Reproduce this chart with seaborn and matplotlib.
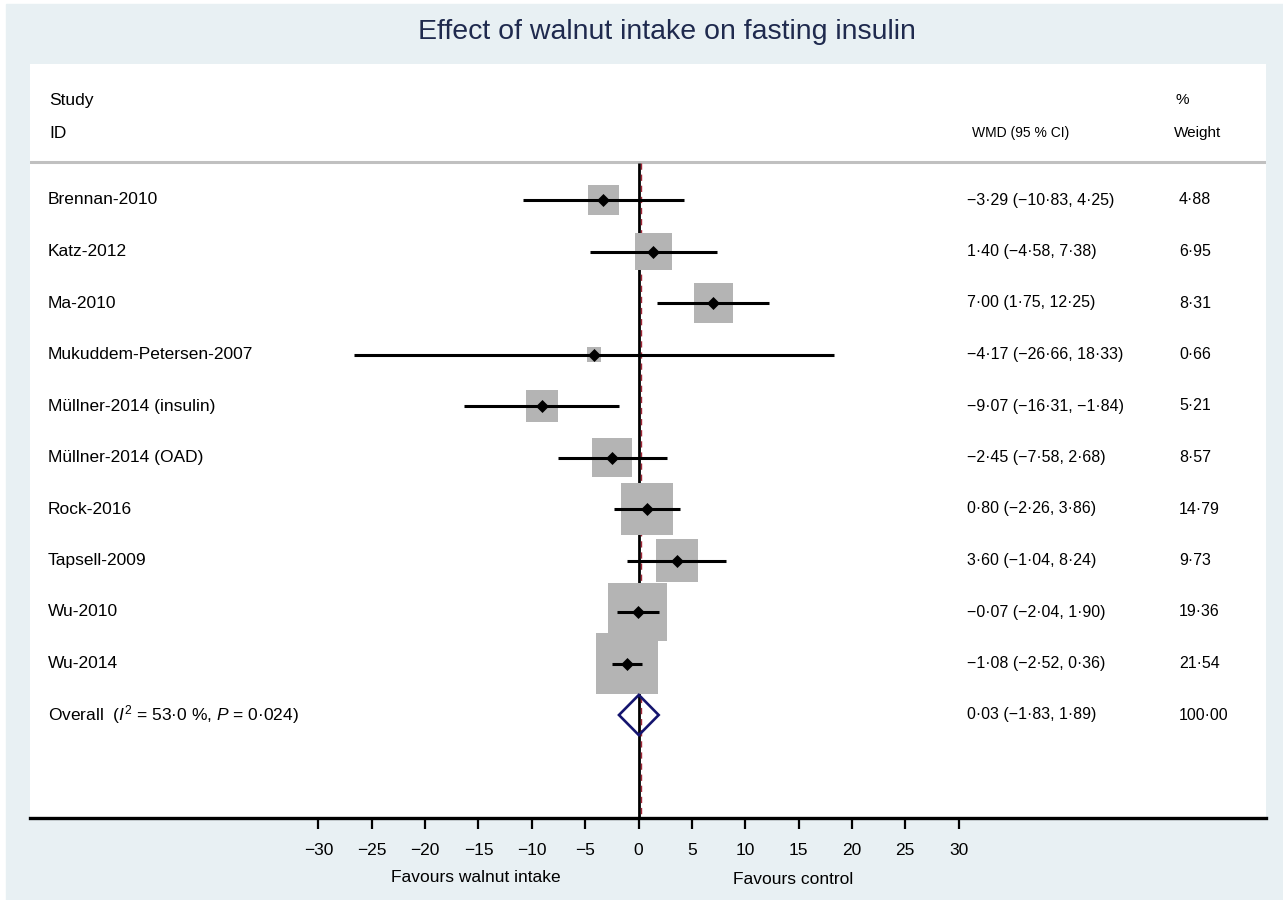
import matplotlib
matplotlib.use("Agg")
import matplotlib.pyplot as plt
import matplotlib.transforms as mtransforms
from matplotlib.patches import Rectangle
import seaborn as sns
import pandas as pd

# ---------------- data ----------------
studies = ["Brennan-2010", "Katz-2012", "Ma-2010", "Mukuddem-Petersen-2007",
           "Müllner-2014 (insulin)", "Müllner-2014 (OAD)", "Rock-2016",
           "Tapsell-2009", "Wu-2010", "Wu-2014"]
est = [-3.29, 1.40, 7.00, -4.17, -9.07, -2.45, 0.80, 3.60, -0.07, -1.08]
lci = [-10.83, -4.58, 1.75, -26.66, -16.31, -7.58, -2.26, -1.04, -2.04, -2.52]
uci = [4.25, 7.38, 12.25, 18.33, -1.84, 2.68, 3.86, 8.24, 1.90, 0.36]
weights = [4.88, 6.95, 8.31, 0.66, 5.21, 8.57, 14.79, 9.73, 19.36, 21.54]
overall_est, overall_lci, overall_uci, overall_w = 0.03, -1.83, 1.89, 100.00
overall_label = "Overall  ($I^2$ = 53·0 %, $P$ = 0·024)"
xticks = [-30, -25, -20, -15, -10, -5, 0, 5, 10, 15, 20, 25, 30]
title = "Effect of walnut intake on fasting insulin"


def fmt(v):
    s = f"{abs(v):.2f}".replace(".", "·")
    return ("\u2212" if v < 0 else "") + s


df = pd.DataFrame({"study": studies, "est": est, "lci": lci, "uci": uci,
                   "weight": weights})
df["row"] = range(len(df))
overall_row = len(df)

# ---------------- figure ----------------
sns.set_theme(style="white")
plt.rcParams["font.family"] = ["Liberation Sans", "DejaVu Sans"]
plt.rcParams["mathtext.fontset"] = "custom"
plt.rcParams["mathtext.it"] = "Liberation Sans:italic"
plt.rcParams["mathtext.rm"] = "Liberation Sans"
plt.rcParams["text.color"] = "black"
plt.rcParams["xtick.color"] = "black"

W, H = 1283, 900
fig = plt.figure(figsize=(W / 100, H / 100), dpi=100, facecolor="white")
bg = "#E8F0F3"
fig.patches.append(Rectangle((6 / W, 0), 1 - 6 / W, 1 - 4 / H,
                             transform=fig.transFigure, color=bg, zorder=-10))

left, right, top, bottom = 30, 1266, 64, 818
ax = fig.add_axes([left / W, (H - bottom) / H, (right - left) / W,
                   (bottom - top) / H])
ax.set_facecolor("white")

px_per_unit = (958.6 - 638.5) / 30.0
x0 = 638.5
ax.set_xlim((left - x0) / px_per_unit, (right - x0) / px_per_unit)
row0, rowstep = 200.0, 51.5
ax.set_ylim((bottom - row0) / rowstep, (top - row0) / rowstep)

sep_y = (161.5 - row0) / rowstep
ymax = (bottom - row0) / rowstep

# header separator
ax.axhline(sep_y, color="#C0C0C0", lw=2.2, zorder=1)
# null line and overall line (drawn beneath the weight squares)
ax.vlines(0, sep_y + 0.02, ymax, color="black", lw=2.0, zorder=2)
red_trans = mtransforms.offset_copy(ax.transData, fig=fig, x=2.3, y=0,
                                    units="dots")
ax.vlines(overall_est, sep_y + 0.02, ymax, color="#A02838", lw=1.0,
          linestyles=(0, (4.5, 3.5)), zorder=2.1, transform=red_trans)

# weight squares
sns.scatterplot(data=df, x="est", y="row", size="weight",
                sizes=(116, 1990), size_norm=(0.66, 21.54), marker="s",
                color="#B4B4B4", linewidth=0, legend=False, ax=ax, zorder=3)
# confidence intervals
ax.hlines(df["row"], df["lci"], df["uci"], color="black", lw=2.2, zorder=4)
# point estimates
sns.scatterplot(data=df, x="est", y="row", marker="D", s=44, color="black",
                linewidth=0, legend=False, ax=ax, zorder=5)

# overall diamond (hollow)
hh = 0.39
ax.fill([overall_lci, overall_est, overall_uci, overall_est, overall_lci],
        [overall_row, overall_row - hh, overall_row, overall_row + hh, overall_row],
        facecolor="none", edgecolor="#14146E", lw=1.9, zorder=7)

# ---------------- text columns ----------------
trans = mtransforms.blended_transform_factory(ax.transAxes, ax.transData)
xa = lambda px: (px - left) / (right - left)
fs = 12.5
for r, name, e, lo, hi, w in zip(df["row"], studies, est, lci, uci, weights):
    ax.text(xa(48), r, name, transform=trans, va="center", ha="left",
            fontsize=fs, color="black")
    ax.text(xa(967), r, f"{fmt(e)} ({fmt(lo)}, {fmt(hi)})", transform=trans,
            va="center", ha="left", fontsize=11.5, color="black")
    ax.text(xa(1179), r, fmt(w), transform=trans, va="center", ha="left",
            fontsize=11.5, color="black")
ax.text(xa(48), overall_row, overall_label, transform=trans, va="center",
        ha="left", fontsize=fs, color="black")
ax.text(xa(967), overall_row,
        f"{fmt(overall_est)} ({fmt(overall_lci)}, {fmt(overall_uci)})",
        transform=trans, va="center", ha="left", fontsize=11.5, color="black")
ax.text(xa(1179), overall_row, fmt(overall_w), transform=trans, va="center",
        ha="left", fontsize=11.5, color="black")

y_study = (100 - row0) / rowstep
y_id = (133 - row0) / rowstep
ax.text(xa(49), y_study, "Study", transform=trans, va="center", ha="left",
        fontsize=fs)
ax.text(xa(49), y_id, "ID", transform=trans, va="center", ha="left",
        fontsize=fs)
ax.text(xa(972), y_id, "WMD (95 % CI)", transform=trans, va="center",
        ha="left", fontsize=10)
ax.text(xa(1176), y_study, "%", transform=trans, va="center", ha="left",
        fontsize=11)
ax.text(xa(1174), y_id, "Weight", transform=trans, va="center", ha="left",
        fontsize=11)

# ---------------- axis ----------------
for s in ["top", "left", "right"]:
    ax.spines[s].set_visible(False)
ax.spines["bottom"].set_color("black")
ax.spines["bottom"].set_linewidth(2.4)
ax.set_yticks([])
ax.set_xlabel("")
ax.set_ylabel("")
ax.set_xticks(xticks)
ax.set_xticklabels([("\u2212" + str(abs(t))) if t < 0 else str(t) for t in xticks])
ax.tick_params(axis="x", direction="out", length=8, width=1.6, color="black",
               labelcolor="black", labelsize=12.5, pad=10, bottom=True)

fig.text(476 / W, 1 - 878 / H, "Favours walnut intake", ha="center",
         va="center", fontsize=12.5)
fig.text(793 / W, 1 - 880 / H, "Favours control", ha="center",
         va="center", fontsize=12.5)

fig.text(667 / W, 1 - 32 / H, title, ha="center", va="center",
         fontsize=20.5, color="#1F2A4E")

fig.savefig("out.png", dpi=100, facecolor=fig.get_facecolor())
